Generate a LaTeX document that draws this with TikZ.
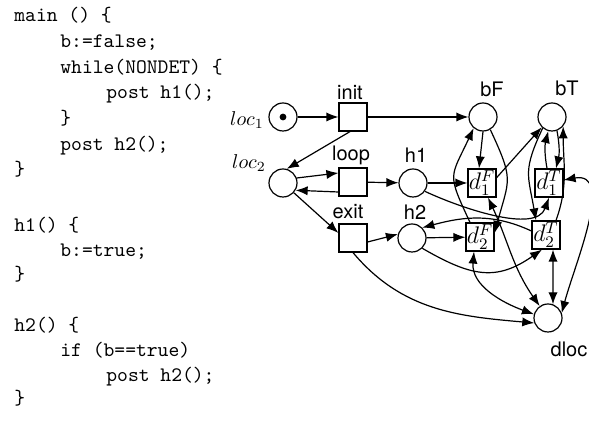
\documentclass[tikz,border=0pt]{standalone}
\usepackage{fontspec}
\newfontfamily\labelfont{TeX Gyre Heros}
\usetikzlibrary{arrows.meta}
\begin{document}
\begin{tikzpicture}[x=0.5pt,y=0.5pt,
  place/.style={circle,draw,minimum size=14pt,inner sep=0pt,line width=0.6pt},
  trans/.style={rectangle,draw,minimum size=14pt,inner sep=0pt,line width=0.6pt},
  dtrans/.style={trans,font=\fontsize{12}{14}\selectfont},
  lbl/.style={font=\labelfont\fontsize{10}{12}\selectfont,inner sep=0pt},
  mlbl/.style={font=\fontsize{10}{12}\selectfont,inner sep=0pt},
  code/.style={font=\ttfamily\fontsize{10.3}{12}\selectfont,anchor=base west,inner sep=0pt},
  arc/.style={line width=0.6pt,-{Latex[length=6pt,width=4.6pt]}},
  darc/.style={line width=0.6pt,{Latex[length=6pt,width=4.6pt]}-{Latex[length=6pt,width=4.6pt]}}
]
\useasboundingbox (0,0) rectangle (589,421);
% code
\node[code] (c1) at (14,399) {main () \{};
\node[code] (c2) at (60,373.3) {b:=false;};
\node[code] (c3) at (60,347.7) {while(NONDET) \{};
\node[code] (c4) at (106,322) {post h1();};
\node[code] (c5) at (60,296.3) {\}};
\node[code] (c6) at (60,270.7) {post h2();};
\node[code] (c7) at (14,245) {\}};
\node[code] (c8) at (14,189.3) {h1() \{};
\node[code] (c9) at (60,164.3) {b:=true;};
\node[code] (c10) at (14,140) {\}};
\node[code] (c11) at (14,89.3) {h2() \{};
\node[code] (c12) at (60,64.3) {if (b==true)};
\node[code] (c13) at (106,39.3) {post h2();};
\node[code] (c14) at (14,16) {\}};
% places and transitions
\node[place] (loc1) at (283,304) {};
\fill (loc1.center) circle[radius=1.7pt];
\node[trans] (init) at (353,304) {};
\node[place] (loc2) at (283,238) {};
\node[trans] (loop) at (353,239) {};
\node[trans] (exit) at (353,183) {};
\node[place] (h1) at (413,238) {};
\node[place] (h2) at (412,183) {};
\node[place] (bF) at (483,304) {};
\node[place] (bT) at (552,304) {};
\node[dtrans] (d1F) at (482,238) {$d_1^F$};
\node[dtrans] (d1T) at (549,238) {$d_1^T$};
\node[dtrans] (d2F) at (480,184) {$d_2^F$};
\node[dtrans] (d2T) at (546,186) {$d_2^T$};
\node[place] (dloc) at (548,103) {};
% labels
\node[mlbl] (lloc1) at (247,301) {$loc_1$};
\node[mlbl] (lloc2) at (249,258) {$loc_2$};
\node[lbl] (linit) at (350,328) {init};
\node[lbl] (lloop) at (351,266) {loop};
\node[lbl] (lexit) at (348,209) {exit};
\node[lbl] (lh1) at (416,266) {h1};
\node[lbl] (lh2) at (415,209) {h2};
\node[lbl] (lbF) at (492,332) {bF};
\node[lbl] (lbT) at (567,333) {bT};
\node[lbl] (ldloc) at (569,72) {dloc};
% arcs
\draw[arc] (loc1) -- (init);
\draw[arc] ([xshift=-1.5pt]init.south) -- (loc2.75);
\draw[arc] (init) -- (bF);
\draw[arc] (loc2.20) -- ([yshift=4.5pt]loop.west);
\draw[arc] ([yshift=-5pt]loop.west) -- (loc2.-30);
\draw[arc] (loop) -- (h1);
\draw[arc] (loc2) -- ([yshift=2.5pt]exit.west);
\draw[arc] ([yshift=-2pt]exit.east) -- (h2.165);
\draw[arc] (exit.south) to[out=-50,in=175] (dloc.200);
\draw[arc] (h1) -- (d1F);
\draw[arc] (h1.-35) to[out=-25,in=-110,looseness=0.8] (d1T.south);
\draw[arc] (bF.south) -- ([xshift=-1.5pt]d1F.north);
\draw[arc] (d1F.20) -- (bT.225);
\draw[darc] ([xshift=3pt]d1F.south) to[out=-65,in=125] (dloc.125);
\draw[arc] ([xshift=-5pt]d2F.north) to[out=115,in=-115,looseness=1.5] (bF.230);
\draw[arc] (bF.-60) to[out=-65,in=75,looseness=1.4] ([yshift=2pt]d2F.east);
\draw[arc] ([xshift=-1pt]d1T.north) to[bend left=12] (bT.-105);
\draw[arc] (bT.-70) to[bend left=12] ([xshift=3.5pt]d1T.north);
\draw[arc] (bT.-130) to[out=-115,in=100,looseness=1.3] ([xshift=-5pt]d2T.north);
\draw[arc] ([xshift=5pt]d2T.north) to[out=70,in=-90] (bT.-40);
\draw[darc] ([xshift=3.5pt]d2T.south) -- (dloc.70);
\draw[darc] ([xshift=-3pt]d2F.south) to[out=-95,in=160] (dloc.165);
\draw[darc] ([yshift=1.5pt]d1T.east) to[out=10,in=75] (dloc.20);
\draw[arc] (h2) -- (d2F);
\draw[arc] (h2.-45) to[out=-30,in=-145,looseness=1.2] ([xshift=-2pt]d2T.south);
\draw[arc] ([yshift=2pt]d2T.west) to[out=155,in=15] (h2.45);
\end{tikzpicture}
\end{document}
